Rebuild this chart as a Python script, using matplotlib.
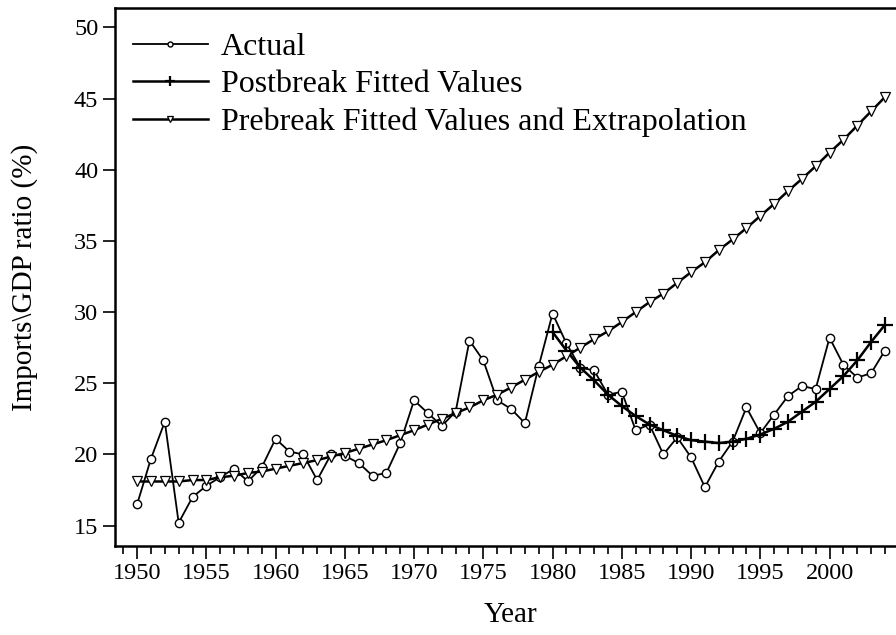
import numpy as np
import matplotlib.pyplot as plt
from matplotlib.ticker import MultipleLocator

# data
years = list(range(1950, 2005))

actual = [16.5, 19.7, 22.3, 15.2, 17.0, 17.8, 18.4, 19.0, 18.1, 19.1,
          21.1, 20.2, 20.0, 18.2, 20.0, 19.9, 19.4, 18.5, 18.7, 20.8,
          23.8, 22.9, 22.0, 23.0, 28.0, 26.6, 23.8, 23.2, 22.2, 26.2,
          29.9, 27.8, 26.1, 25.9, 24.2, 24.4, 21.7, 22.1, 20.0, 21.2,
          19.8, 17.7, 19.5, 20.9, 23.3, 21.5, 22.8, 24.1, 24.8, 24.6,
          28.2, 26.3, 25.4, 25.7, 27.3]

post_years = list(range(1980, 2005))
postbreak = [28.6, 27.3, 26.1, 25.2, 24.2, 23.4, 22.7, 22.1, 21.7, 21.3,
             21.0, 20.9, 20.8, 20.9, 21.1, 21.4, 21.8, 22.3, 23.0, 23.7,
             24.6, 25.5, 26.6, 27.9, 29.1]

prebreak = [18.1, 18.1, 18.1, 18.1, 18.2, 18.2, 18.4, 18.5, 18.7, 18.8,
            19.0, 19.2, 19.4, 19.6, 19.85, 20.1, 20.4, 20.7, 21.0, 21.35,
            21.7, 22.1, 22.5, 22.9, 23.3, 23.8, 24.2, 24.7, 25.25, 25.8,
            26.3, 26.9, 27.5, 28.1, 28.65, 29.3, 30.0, 30.7, 31.3, 32.05,
            32.8, 33.5, 34.35, 35.1, 35.9, 36.75, 37.6, 38.5, 39.35, 40.25,
            41.2, 42.1, 43.1, 44.1, 45.1]

plt.rcParams['font.family'] = ['Liberation Serif', 'DejaVu Serif']

fig = plt.figure(figsize=(8.96, 6.35), dpi=100)
ax = fig.add_axes([0.1283, 0.1402, 0.8717, 0.8472])

ax.plot(years, actual, color='black', lw=1.3, marker='o', ms=6,
        mfc='white', mec='black', mew=1.0, label='Actual')
ax.plot(post_years, postbreak, color='black', lw=1.8, marker='+', ms=11,
        mew=1.6, label='Postbreak Fitted Values')
ax.plot(years, prebreak, color='black', lw=1.8, marker='v', ms=7,
        mfc='white', mec='black', mew=0.9,
        label='Prebreak Fitted Values and Extrapolation')

ax.set_xlim(1948.4, 2004.8)
ax.set_ylim(13.57, 51.36)

ax.xaxis.set_minor_locator(MultipleLocator(1))
ax.set_xticks(range(1950, 2001, 5))
ax.set_yticks(range(15, 51, 5))

ax.tick_params(axis='x', which='major', length=9, width=1.2, labelsize=17.5, pad=3)
ax.tick_params(axis='x', which='minor', length=6, width=1.2)
ax.tick_params(axis='y', which='major', length=9, width=1.2, labelsize=17.5, pad=3)

for s in ['left', 'bottom', 'top']:
    ax.spines[s].set_linewidth(1.8)
ax.spines['right'].set_visible(False)

ax.set_xlabel('Year', fontsize=21)
ax.xaxis.set_label_coords(0.507, -0.104)
ax.set_ylabel('Imports\\GDP ratio (%)', fontsize=21)
ax.yaxis.set_label_coords(-0.099, 0.5)

ax.legend(loc='upper left', bbox_to_anchor=(-0.004, 0.993), frameon=False,
          fontsize=23, markerscale=0.6, handlelength=2.35, handletextpad=0.42,
          labelspacing=0.25, borderaxespad=0.25)

fig.savefig('out.png', dpi=100)
